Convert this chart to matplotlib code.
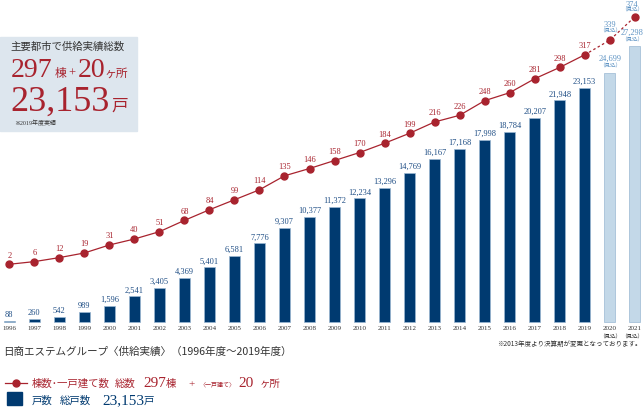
import matplotlib.pyplot as plt

years = list(range(1996, 2022))
units = [88, 260, 542, 989, 1596, 2541, 3405, 4369, 5401, 6581, 7776, 9307, 10377,
         11372, 12234, 13296, 14769, 16167, 17168, 17998, 18784, 20207, 21948, 23153,
         24699, 27298]
buildings = [2, 6, 12, 19, 31, 40, 51, 68, 84, 99, 114, 135, 146, 158, 170, 184, 199,
             216, 226, 248, 260, 281, 298, 317, 339, 374]
n_actual = 24  # 1996-2019 are results, 2020-2021 are forecasts

red = '#a8232e'
navy = '#003a70'
navy_txt = '#1f4e85'
pale = '#c3d8e8'
pale_txt = '#5f94c4'
grey = '#333333'
serif = ['Liberation Serif', 'Noto Sans CJK JP']
jp = ['Noto Sans CJK JP', 'DejaVu Sans']

W, H = 644, 407
fig = plt.figure(figsize=(W / 100, H / 100), dpi=100)
ax = fig.add_axes([0, 0, 1, 1])
ax.set_xlim(-0.372, 25.37)
ax.set_ylim(-(H - 322) / 0.0101, 322 / 0.0101)
ax.axis('off')
ax2 = ax.twinx()
ax2.set_ylim(-(H - 265.6) / 0.665, 265.6 / 0.665)
ax2.axis('off')


def ft(x, y, s, **kw):
    fig.text(x / W, 1 - y / H, s, **kw)


x = list(range(len(years)))
colors = [navy] * n_actual + [pale] * (len(years) - n_actual)
ax.bar(x, units, width=0.45, color=colors, edgecolor='#9bb8d3', linewidth=0.5)

for i, v in enumerate(units):
    dx = -2 if i == len(years) - 1 else 0
    if i < n_actual:
        ax.annotate(f'{v:,}', (i, v), xytext=(0, 4.3), textcoords='offset points',
                    ha='center', va='center', fontsize=6, color=navy_txt, family=serif)
    else:
        ax.annotate('（見込）', (i, v), xytext=(dx, 4.6), textcoords='offset points',
                    ha='center', va='center', fontsize=4, color=pale_txt, family=jp)
        ax.annotate(f'{v:,}', (i, v), xytext=(dx, 9.8), textcoords='offset points',
                    ha='center', va='center', fontsize=6, color=pale_txt, family=serif)
    ax.text(i, -7 / 0.0101, str(years[i]), ha='center', va='center', fontsize=5,
            color=grey, family=serif)
    if i >= n_actual:
        ax.annotate('（見込）', (i, -15 / 0.0101), xytext=(dx, 0), textcoords='offset points',
                    ha='center', va='center', fontsize=4, color=grey, family=jp)

ax2.plot(x[:n_actual], buildings[:n_actual], color=red, lw=0.9, marker='o',
         markersize=5, zorder=3)
ax2.plot(x[n_actual - 1:], buildings[n_actual - 1:], color=red, lw=0.9, ls=(0, (2, 2)),
         marker='o', markersize=5, markevery=[1, 2], zorder=3)
for i, v in enumerate(buildings):
    last = i == len(years) - 1
    dx = -2 if last else 0
    if i < n_actual:
        ax2.annotate(str(v), (i, v), xytext=(0, 6.2), textcoords='offset points',
                     ha='center', va='center', fontsize=6, color=red, family=serif)
    else:
        ax2.annotate('（見込）', (i, v), xytext=(dx, 4.8 if last else 6.4),
                     textcoords='offset points', ha='center', va='center',
                     fontsize=4, color=pale_txt, family=jp)
        ax2.annotate(str(v), (i, v), xytext=(dx, 8.9 if last else 11.0),
                     textcoords='offset points', ha='center', va='center',
                     fontsize=6, color=pale_txt, family=serif)

# summary box
fig.patches.append(plt.Rectangle((0, 1 - 131 / H), 137 / W, 94 / H,
                                 transform=fig.transFigure, color='#dde6ee', zorder=0))
ft(10, 47, '主要都市で供給実績総数', fontsize=7.5, color=grey, family=jp, va='center')
ft(11, 77, '297', fontsize=20, color=red, family=serif, va='baseline')
ft(55, 77, '棟', fontsize=8.5, color=red, family=jp, va='baseline')
ft(68, 77, '+', fontsize=9, color=red, family=serif, va='baseline')
ft(78, 77, '20', fontsize=20, color=red, family=serif, va='baseline')
ft(104, 77, 'ヶ所', fontsize=8.5, color=red, family=jp, va='baseline')
ft(10, 111, '23,153', fontsize=26, color=red, family=serif, va='baseline')
ft(111, 111, '戸', fontsize=12, color=red, family=jp, va='baseline')
ft(14, 123, '※2019年度実績', fontsize=4.3, color=grey, family=serif, va='center')

# caption and notes
ft(3, 352, '日商エステムグループ〈供給実績〉（1996年度〜2019年度）', fontsize=7.6,
   color=grey, family=jp, va='center')
ft(642, 344, '※2013年度より決算期が変更となっております。', fontsize=4.7, color=grey,
   family=jp, va='center', ha='right')

# legend
fig.add_artist(plt.Line2D([5 / W, 27 / W], [1 - 383 / H] * 2, color=red, lw=0.9,
                          transform=fig.transFigure))
fig.add_artist(plt.Line2D([16 / W], [1 - 383 / H], color=red, marker='o', markersize=5,
                          transform=fig.transFigure))
ft(32, 387, '棟数･一戸建て数', fontsize=7.5, color=red, family=jp, va='baseline')
ft(115, 387, '総数', fontsize=7.5, color=red, family=jp, va='baseline')
ft(143, 387, '297', fontsize=11, color=red, family=serif, va='baseline')
ft(166, 387, '棟', fontsize=7.5, color=red, family=jp, va='baseline')
ft(188, 387, '+', fontsize=8, color=red, family=serif, va='baseline')
ft(199, 386, '〈一戸建て〉', fontsize=4.3, color=red, family=jp, va='baseline')
ft(238, 387, '20', fontsize=11, color=red, family=serif, va='baseline')
ft(260, 387, 'ヶ所', fontsize=7.5, color=red, family=jp, va='baseline')
fig.patches.append(plt.Rectangle((7 / W, 1 - 405 / H), 15 / W, 13 / H,
                                 transform=fig.transFigure, color=navy))
ft(32, 404, '戸数', fontsize=7.5, color=navy, family=jp, va='baseline')
ft(60, 404, '総戸数', fontsize=7.5, color=navy, family=jp, va='baseline')
ft(102, 404, '23,153', fontsize=11, color=navy, family=serif, va='baseline')
ft(144, 404, '戸', fontsize=7.5, color=navy, family=jp, va='baseline')

fig.savefig('out.png', dpi=100)
